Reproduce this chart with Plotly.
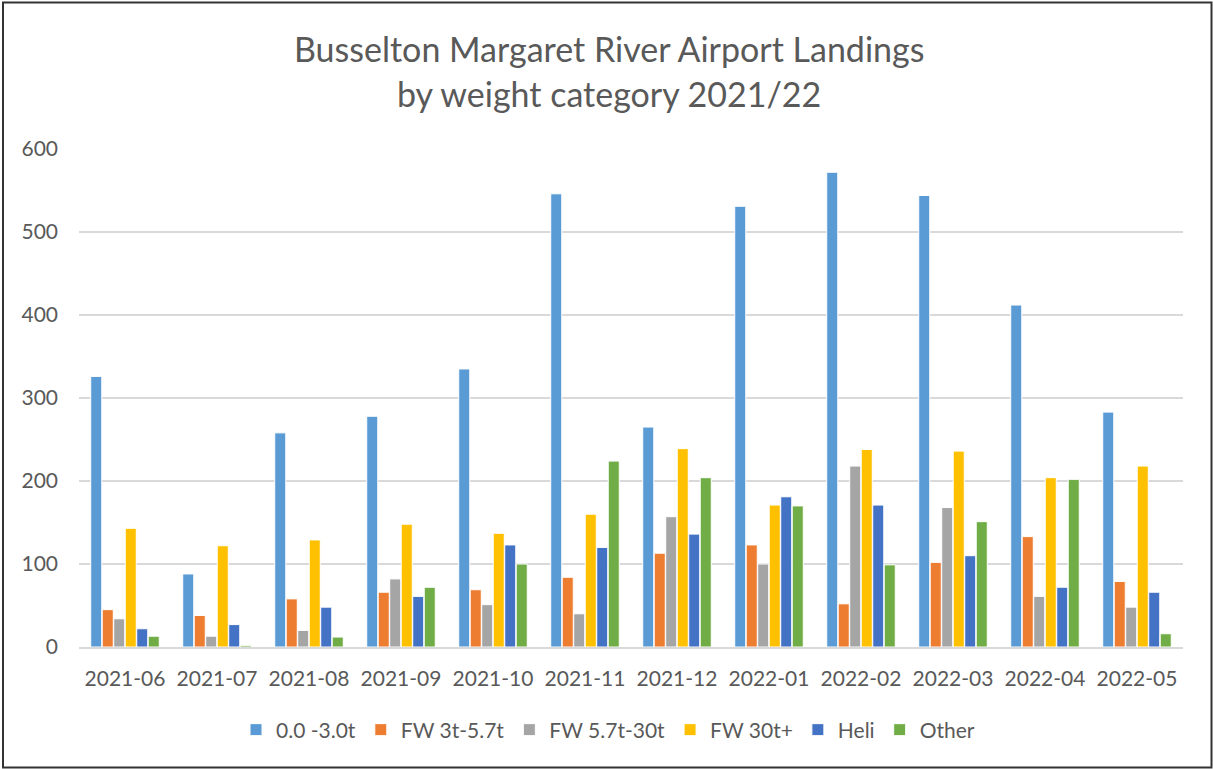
import plotly.graph_objects as go

months = ["2021-06", "2021-07", "2021-08", "2021-09", "2021-10", "2021-11",
          "2021-12", "2022-01", "2022-02", "2022-03", "2022-04", "2022-05"]
s_light = [326, 88, 258, 278, 335, 546, 265, 531, 572, 544, 412, 283]
s_3_57 = [45, 38, 58, 66, 69, 84, 113, 123, 52, 102, 133, 79]
s_57_30 = [34, 13, 20, 82, 51, 40, 157, 100, 218, 168, 61, 48]
s_30p = [143, 122, 129, 148, 137, 160, 239, 171, 238, 236, 204, 218]
s_heli = [22, 27, 48, 61, 123, 120, 136, 181, 171, 110, 72, 66]
s_other = [13, 2, 12, 72, 100, 224, 204, 170, 99, 151, 202, 16]

names = ["0.0 -3.0t", "FW 3t-5.7t", "FW 5.7t-30t", "FW 30t+", "Heli", "Other"]
series = [s_light, s_3_57, s_57_30, s_30p, s_heli, s_other]
colors = ["#5B9BD5", "#ED7D31", "#A5A5A5", "#FFC000", "#4472C4", "#70AD47"]
title1 = "Busselton Margaret River Airport Landings"
title2 = "by weight category 2021/22"

W, H = 1213, 769
L, R, T, B = 79, 30, 149, 122
pw, ph = W - L - R, H - T - B

def px_x(p):
    return (p - L) / pw

def px_y(p):
    return (H - B - p) / ph

fig = go.Figure()
for n, s, c in zip(names, series, colors):
    fig.add_trace(go.Bar(x=months, y=s, name=n,
                         marker=dict(color=c, line=dict(color="white", width=1))))

font = "Lato, Liberation Sans, Arial"
grey = "#595959"
fig.update_layout(
    width=W, height=H,
    margin=dict(l=L, r=R, t=T, b=B),
    paper_bgcolor="white", plot_bgcolor="white",
    barmode="group", bargap=0.25, bargroupgap=0.04,
    font=dict(family=font, color=grey, size=21),
    xaxis=dict(type="category", showgrid=False, showline=True, linecolor="#D9D9D9",
               linewidth=2, ticks="", tickfont=dict(size=21, color=grey),
               ticklabelstandoff=12),
    yaxis=dict(range=[0, 600], dtick=100, showgrid=True, gridcolor="#D9D9D9", gridwidth=2,
               zeroline=False, showline=False, ticks="", tickfont=dict(size=21, color=grey),
               ticklabelstandoff=20),
    legend=dict(orientation="h", x=px_x(608), xanchor="center", y=px_y(730), yanchor="middle",
                font=dict(size=21, color=grey), itemwidth=30, traceorder="normal"),
    showlegend=True,
    annotations=[
        dict(text=title1, xref="paper", yref="paper", x=px_x(609), y=px_y(49),
             xanchor="center", yanchor="middle", showarrow=False,
             font=dict(size=34, color=grey, family=font)),
        dict(text=title2, xref="paper", yref="paper", x=px_x(609), y=px_y(94),
             xanchor="center", yanchor="middle", showarrow=False,
             font=dict(size=34, color=grey, family=font)),
    ],
)

fig.add_shape(type="rect", xref="paper", yref="paper",
              x0=px_x(3), x1=px_x(1211.5), y0=px_y(767.5), y1=px_y(2.5),
              line=dict(color="#333333", width=2), fillcolor="rgba(0,0,0,0)", layer="above")

fig.write_html("out.html", config={"displayModeBar": False},
               post_script="document.body.style.margin='0';document.body.style.overflow='hidden';")
